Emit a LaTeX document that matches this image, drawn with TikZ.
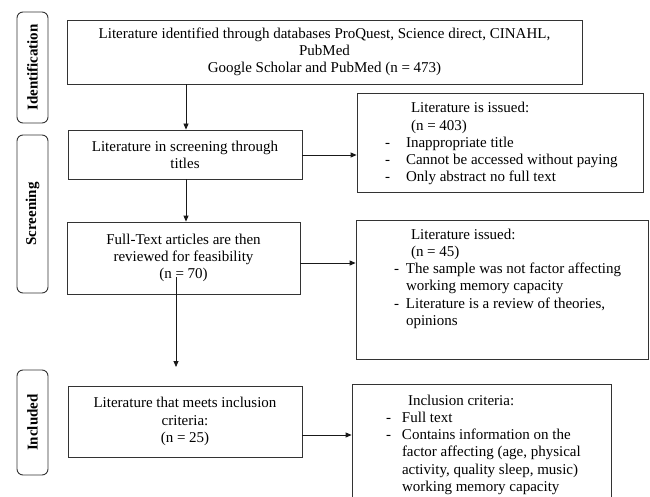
\documentclass[tikz,border=0pt]{standalone}
\usepackage{fontspec}
\setmainfont{Liberation Serif}
\usetikzlibrary{arrows.meta}
\begin{document}
\begin{tikzpicture}[x=1pt,y=-1pt,
  box/.style={draw=black!80, line width=0.8pt, inner sep=0pt, align=center,
    font=\fontsize{15}{17.25}\selectfont},
  side/.style={draw=black!80, line width=0.9pt, rounded corners=6pt, inner sep=0pt,
    rotate=90, minimum height=31pt, font=\fontsize{15}{17}\selectfont\bfseries},
  arr/.style={-{Triangle[length=6pt,width=5pt]}, line width=0.8pt, black!90}]
\useasboundingbox (0,0) rectangle (650,497);
\clip (0,0) rectangle (650,497);
\fill[white] (0,0) rectangle (650,497);

% stage labels
\node[side, minimum width=111pt] (lid) at (32.5,67.5) {Identification};
\node[side, minimum width=158pt] (lsc) at (32.5,214) {Screening};
\node[side, minimum width=105pt] (lin) at (32.5,422.5) {Included};

% main column
\node[box, minimum width=515pt, minimum height=64pt] (top) at (324.5,52)
  {Literature identified through databases ProQuest, Science direct, CINAHL,\\
   PubMed\\ Google Scholar and PubMed (n = 473)};
\node[box, minimum width=234pt, minimum height=49pt] (screen) at (185,154.5)
  {Literature in screening through\\ titles};
\node[box, minimum width=233pt, minimum height=72pt] (full) at (183.5,258)
  {Full-Text articles are then\\ reviewed for feasibility\\ (n = 70)};
\node[box, minimum width=234pt, minimum height=71pt] (incl) at (185,421.5)
  {Literature that meets inclusion\\ criteria:\\ (n = 25)};

% right column
\node[box, minimum width=286pt, minimum height=99pt] (r1) at (500,142.5)
  {\begin{minipage}[c][99pt][t]{286pt}\raggedright
   \rule{0pt}{20pt}\hspace*{54pt}Literature is issued:\\
   \hspace*{54pt}(n = 403)\\
   \hspace*{28pt}\makebox[21pt][l]{-}Inappropriate title\\
   \hspace*{28pt}\makebox[21pt][l]{-}Cannot be accessed without paying\\
   \hspace*{28pt}\makebox[21pt][l]{-}Only abstract no full text
   \end{minipage}};
\node[box, minimum width=292pt, minimum height=139pt] (r2) at (502,289.5)
  {\begin{minipage}[c][139pt][t]{292pt}\raggedright
   \rule{0pt}{19pt}\hspace*{55pt}Literature issued:\\
   \hspace*{55pt}(n = 45)\\
   \hspace*{38pt}\makebox[12pt][l]{-}The sample was not factor affecting\\
   \hspace*{50pt}working memory capacity\\
   \hspace*{38pt}\makebox[12pt][l]{-}Literature is a review of theories,\\
   \hspace*{50pt}opinions
   \end{minipage}};
\node[box, minimum width=259pt, minimum height=136pt] (r3) at (481.5,452)
  {\begin{minipage}[c][136pt][t]{259pt}\raggedright
   \rule{0pt}{21pt}\hspace*{56pt}Inclusion criteria:\\
   \hspace*{34pt}\makebox[16pt][l]{-}Full text\\
   \hspace*{34pt}\makebox[16pt][l]{-}Contains information on the\\
   \hspace*{50pt}factor affecting (age, physical\\
   \hspace*{50pt}activity, quality sleep, music)\\
   \hspace*{50pt}working memory capacity
   \end{minipage}};

% connectors
\draw[arr] ([xshift=1pt]screen.north |- top.south) -- ([xshift=1pt]screen.north);
\draw[arr] ([xshift=1pt]screen.south) -- ([xshift=1pt]screen.south |- full.north);
\coordinate (c70) at (176,277);
\coordinate (e70) at (176,367);
\draw[arr] (c70) -- (e70);

\path ([yshift=-0.5pt]screen.east) coordinate (sa);
\draw[arr] (sa) -- (sa -| r1.west);
\path ([yshift=-5pt]full.east) coordinate (fa);
\draw[arr] (fa) -- (fa -| r2.west);
\path ([yshift=-13.5pt]incl.east) coordinate (ia);
\draw[arr] (ia) -- (ia -| r3.west);
\end{tikzpicture}
\end{document}
